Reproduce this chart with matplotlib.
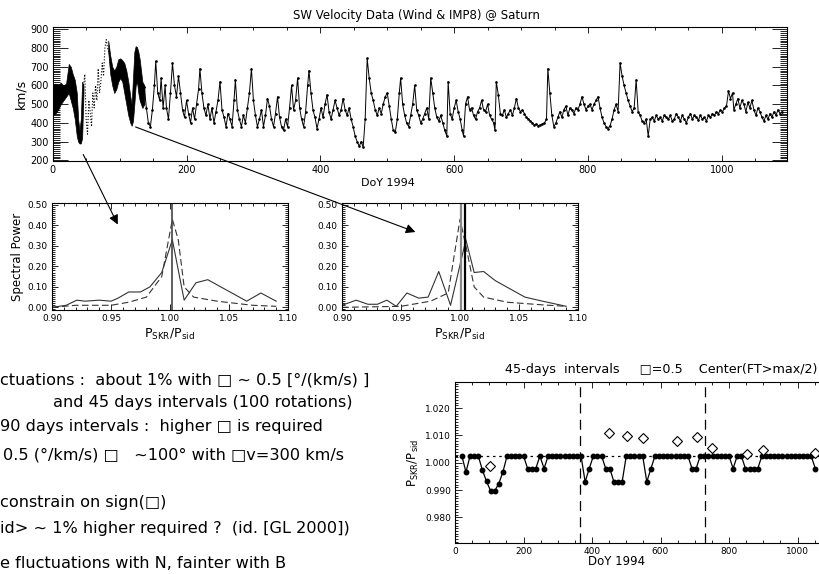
import matplotlib
matplotlib.use("Agg")
import matplotlib.pyplot as plt
import numpy as np
from matplotlib.ticker import MultipleLocator, FormatStrFormatter

plt.rcParams["font.family"] = ["DejaVu Sans"]
plt.rcParams["mathtext.fontset"] = "dejavusans"

W, H = 819, 574

# ---- top panel : SW speed (km/s) vs DoY 1994 ----
# dense (thick) stretches drawn as an envelope
band1_day = [0, 4, 8, 12, 16, 20, 24, 27, 30, 33, 36, 38, 40, 42, 44, 46]
band1_hi = [605, 610, 600, 615, 600, 610, 715, 700, 660, 630, 560, 420, 360, 420, 620, 600]
band1_lo = [440, 450, 470, 500, 520, 540, 560, 520, 480, 420, 330, 300, 290, 290, 320, 560]

band2_day = [83, 86, 89, 92, 95, 98, 101, 104, 107, 110, 113, 116, 118, 120, 122, 124, 126, 128, 130, 132, 134, 137]
band2_hi = [840, 760, 700, 680, 700, 740, 745, 735, 720, 680, 620, 540, 500, 640, 780, 810, 805, 780, 740, 680, 620, 600]
band2_lo = [780, 660, 600, 560, 580, 620, 640, 620, 560, 500, 440, 400, 385, 410, 500, 600, 620, 560, 520, 500, 480, 500]

gap_day = [46, 48, 50, 52, 54, 56, 58, 60, 62, 64, 66, 68, 70, 72, 74, 76, 78, 80, 82, 84]
gap_kms = [600, 660, 420, 340, 520, 460, 380, 560, 480, 600, 520, 690, 560, 620, 720, 650, 800, 845, 800, 780]

sw_day = [
    137, 140, 143, 146, 149, 152, 154, 157, 160, 162, 165, 168, 170, 173, 176, 179, 182, 185, 188, 191,
    194, 197, 200, 203, 206, 209, 212, 215, 218, 220, 223, 226, 229, 232, 235, 238, 241, 244, 247, 250,
    253, 256, 259, 262, 265, 268, 271, 273, 276, 279, 282, 285, 288, 291, 294, 297, 300, 303, 306, 309,
    312, 315, 318, 321, 324, 327, 330, 333, 336, 339, 342, 345, 348, 351, 354, 357, 360, 363, 366, 369,
    372, 375, 378, 381, 383, 386, 389, 392, 395, 398, 401, 404, 407, 410, 413, 416, 419, 422, 425, 428,
    431, 434, 437, 440, 443, 446, 449, 452, 455, 458, 461, 464, 467, 470, 473, 476, 479, 482, 485, 488,
    491, 494, 497, 500, 503, 506, 509, 512, 515, 518, 520, 523, 526, 529, 532, 535, 538, 541, 544, 547,
    550, 553, 556, 559, 562, 565, 568, 571, 574, 577, 580, 583, 586, 589, 591, 594, 597, 600, 603, 606,
    609, 612, 614, 617, 620, 623, 626, 629, 632, 635, 638, 641, 644, 647, 650, 653, 656, 659, 661, 663,
    666, 669, 672, 675, 678, 681, 684, 687, 690, 693, 696, 699, 702, 705, 708, 711, 714, 717, 720, 723,
    726, 729, 732, 735, 738, 740, 743, 746, 749, 752, 755, 758, 761, 764, 767, 770, 773, 776, 779, 782,
    785, 788, 791, 794, 797, 800, 803, 806, 809, 812, 815, 818, 821, 824, 827, 830, 833, 836, 839, 842,
    845, 848, 851, 854, 857, 860, 863, 866, 869, 872, 875, 878, 881, 884, 887, 890, 893, 896, 899, 902,
    905, 908, 911, 914, 917, 920, 923, 926, 929, 932, 935, 938, 941, 944, 947, 950, 953, 956, 959, 962,
    965, 968, 971, 974, 977, 980, 983, 986, 989, 992, 995, 998, 1001, 1004, 1007, 1010, 1013, 1016, 1018, 1021,
    1024, 1027, 1030, 1033, 1036, 1039, 1042, 1045, 1048, 1051, 1054, 1057, 1060, 1063, 1066, 1069, 1072, 1075, 1078, 1081,
    1084, 1087, 1090,
]
sw_kms = [
    590, 480, 400, 380, 470, 600, 730, 560, 520, 640, 480, 600, 480, 420, 560, 720, 600, 540, 650, 560,
    470, 430, 520, 450, 400, 480, 420, 500, 580, 690, 560, 480, 440, 500, 420, 480, 400, 460, 520, 620,
    470, 430, 380, 450, 420, 380, 520, 630, 470, 420, 380, 440, 400, 480, 560, 690, 520, 440, 380, 420,
    470, 380, 440, 530, 490, 420, 380, 450, 540, 430, 380, 360, 420, 380, 480, 600, 470, 520, 640, 480,
    420, 380, 460, 600, 680, 560, 470, 430, 370, 420, 480, 430, 500, 550, 460, 420, 470, 520, 480, 440,
    470, 530, 470, 440, 480, 420, 380, 330, 300, 275, 300, 270, 420, 745, 640, 560, 520, 470, 440, 480,
    450, 500, 540, 560, 490, 420, 360, 350, 420, 560, 640, 500, 440, 400, 380, 440, 500, 600, 470, 440,
    400, 420, 450, 480, 420, 640, 560, 480, 430, 410, 440, 400, 360, 330, 620, 450, 420, 480, 520, 460,
    420, 360, 330, 500, 540, 470, 480, 440, 420, 460, 480, 520, 470, 460, 500, 440, 420, 400, 360, 620,
    550, 450, 440, 470, 430, 450, 470, 440, 480, 530, 480, 460, 470, 450, 430, 420, 410, 400, 390, 395,
    385, 390, 395, 400, 420, 690, 560, 440, 380, 400, 430, 460, 430, 470, 490, 440, 480, 470, 450, 480,
    470, 500, 540, 500, 470, 490, 500, 470, 500, 520, 540, 480, 430, 400, 380, 370, 385, 420, 470, 500,
    460, 720, 650, 600, 560, 520, 490, 460, 480, 630, 460, 440, 410, 400, 420, 330, 420, 430, 410, 440,
    420, 430, 410, 440, 430, 420, 440, 410, 420, 450, 430, 410, 440, 420, 400, 430, 450, 420, 440, 430,
    415, 440, 420, 430, 410, 440, 430, 450, 440, 460, 450, 470, 460, 480, 490, 570, 530, 560, 470, 500,
    530, 480, 520, 500, 460, 510, 480, 520, 470, 440, 480, 460, 430, 410, 440, 420, 450, 430, 460, 440,
    470, 450, 460,
]

# ---- middle panels : spectral power vs P_SKR/P_sid ----
specL_x = [0.900, 0.912, 0.921, 0.928, 0.940, 0.950, 0.956, 0.965, 0.975, 0.983, 0.993, 1.002, 1.012, 1.022, 1.032, 1.065, 1.077, 1.090]
specL_y = [0.000, 0.010, 0.035, 0.030, 0.035, 0.030, 0.045, 0.075, 0.075, 0.100, 0.170, 0.330, 0.035, 0.120, 0.135, 0.030, 0.070, 0.030]
modelL_x = [0.900, 0.920, 0.950, 0.965, 0.980, 0.993, 1.002, 1.007, 1.012, 1.020, 1.040, 1.070, 1.090]
modelL_y = [0.000, 0.010, 0.010, 0.025, 0.050, 0.150, 0.430, 0.330, 0.100, 0.050, 0.030, 0.010, 0.005]
peakL = [1.002]

specR_x = [0.900, 0.912, 0.922, 0.930, 0.938, 0.946, 0.955, 0.965, 0.973, 0.982, 0.992, 1.005, 1.012, 1.020, 1.030, 1.055, 1.070, 1.090]
specR_y = [0.010, 0.035, 0.015, 0.015, 0.035, 0.005, 0.070, 0.045, 0.050, 0.175, 0.010, 0.330, 0.170, 0.175, 0.130, 0.050, 0.030, 0.005]
modelR_x = [0.900, 0.950, 0.975, 0.990, 1.000, 1.005, 1.012, 1.020, 1.040, 1.070, 1.090]
modelR_y = [0.000, 0.005, 0.030, 0.070, 0.430, 0.300, 0.100, 0.050, 0.025, 0.012, 0.005]
peakR_gray = [1.001]
peakR_black = [1.0045]

# ---- bottom right : period ratio from 45-day windows ----
fit_day = np.arange(20, 1060, 12)   # window centres
fit_ratio = [
    1.0025, 0.9966, 1.0025, 1.0025, 1.0025, 0.9973, 0.9932, 0.9897, 0.9897, 0.9924,
    0.9967, 1.0025, 1.0025, 1.0025, 1.0025, 1.0025, 0.9979, 0.9979, 0.9979, 1.0025,
    0.9979, 1.0025, 1.0025, 1.0025, 1.0025, 1.0025, 1.0025, 1.0025, 1.0025, 1.0025,
    0.9930, 0.9979, 1.0025, 1.0025, 1.0025, 0.9979, 0.9979, 0.9930, 0.9930, 0.9930,
    1.0025, 1.0025, 1.0025, 1.0025, 1.0025, 0.9930, 0.9979, 1.0025, 1.0025, 1.0025,
    1.0025, 1.0025, 1.0025, 1.0025, 1.0025, 1.0025, 0.9979, 0.9979, 1.0025, 1.0025,
    1.0025, 1.0025, 1.0025, 1.0025, 1.0025, 1.0025, 0.9979, 1.0025, 1.0025, 0.9979,
    0.9979, 0.9979, 0.9979, 1.0025, 1.0025, 1.0025, 1.0025, 1.0025, 1.0025, 1.0025,
    1.0025, 1.0025, 1.0025, 1.0025, 1.0025, 1.0025, 0.9979,
]
diam_day = [102, 451, 503, 550, 649, 706, 751, 852, 900, 1051]
diam_ratio = [0.9989, 1.0108, 1.0098, 1.0090, 1.0078, 1.0094, 1.0053, 1.0033, 1.0047, 1.0037]
sid_level = 1.0024
year_marks = [365, 730]

slide_lines = [
    ("ctuations :  about 1% with \u25a1 ~ 0.5 [\u00b0/(km/s) ]", 0, 380),
    ("and 45 days intervals (100 rotations)", 53, 402),
    ("90 days intervals :  higher \u25a1 is required", 0, 427),
    ("0.5 (\u00b0/km/s) \u25a1   ~100\u00b0 with \u25a1v=300 km/s", 3, 455),
    ("constrain on sign(\u25a1)", 0, 503),
    ("id> ~ 1% higher required ?  (id. [GL 2000])", 0, 528),
    ("e fluctuations with N, fainter with B", 0, 563),
]

ratio_lbl = r"P$_{\mathrm{SKR}}$/P$_{\mathrm{sid}}$"


def box(l, t, r, b):
    return [l / W, 1 - b / H, (r - l) / W, (b - t) / H]


def idl_axis(ax, xlen, ylen, size):
    ax.tick_params(which="both", direction="in", top=True, right=True,
                   width=0.6, labelsize=size, pad=3)
    ax.xaxis.set_tick_params(which="major", length=xlen[0])
    ax.xaxis.set_tick_params(which="minor", length=xlen[1])
    ax.yaxis.set_tick_params(which="major", length=ylen[0])
    ax.yaxis.set_tick_params(which="minor", length=ylen[1])
    for s in ax.spines.values():
        s.set_linewidth(0.8)


fig = plt.figure(figsize=(W / 100, H / 100), dpi=100)

# top panel
ax1 = fig.add_axes(box(52.7, 27.3, 786.7, 160.7))
ax1.fill_between(band1_day, band1_lo, band1_hi, color="black", lw=0.5)
ax1.fill_between(band2_day, band2_lo, band2_hi, color="black", lw=0.5)
ax1.plot(gap_day, gap_kms, ":", color="black", lw=0.8)
ax1.plot(sw_day, sw_kms, "-", color="black", lw=0.7, marker=".", ms=1.8)
ax1.set_xlim(0, 1097)
ax1.set_ylim(198, 911)
ax1.xaxis.set_major_locator(MultipleLocator(200))
ax1.xaxis.set_minor_locator(MultipleLocator(50))
ax1.yaxis.set_major_locator(MultipleLocator(100))
ax1.yaxis.set_minor_locator(MultipleLocator(10))
idl_axis(ax1, (4, 2), (11, 5), 7)
ax1.set_ylabel("km/s", fontsize=9, labelpad=2)
ax1.set_xlabel("DoY 1994", fontsize=8, labelpad=1)
ax1.xaxis.set_label_coords((388 - 52.7) / 734, -0.13)
fig.text(416 / W, 1 - 15 / H, "SW Velocity Data (Wind & IMP8) @ Saturn",
         ha="center", va="center", fontsize=8.5)

# spectra
for left, sx, sy, mx, my, ylab in [
    (52, specL_x, specL_y, modelL_x, modelL_y, True),
    (342, specR_x, specR_y, modelR_x, modelR_y, False),
]:
    ax = fig.add_axes(box(left, 203.3, left + 236, 310))
    ax.plot(sx, sy, "-", color="#333333", lw=0.8)
    ax.plot(mx, my, "--", color="#333333", lw=0.8, dashes=(6, 3))
    ax.set_xlim(0.9, 1.1)
    ax.set_ylim(-0.013, 0.508)
    ax.xaxis.set_major_locator(MultipleLocator(0.05))
    ax.xaxis.set_minor_locator(MultipleLocator(0.01))
    ax.yaxis.set_major_locator(MultipleLocator(0.1))
    ax.yaxis.set_minor_locator(MultipleLocator(0.01))
    ax.xaxis.set_major_formatter(FormatStrFormatter("%.2f"))
    ax.yaxis.set_major_formatter(FormatStrFormatter("%.2f"))
    idl_axis(ax, (4, 2), (4, 2), 6.5)
    ax.set_xlabel(ratio_lbl, fontsize=9, labelpad=3)
    if ylab:
        ax.set_ylabel("Spectral Power", fontsize=8.5, labelpad=3)
        ax.axvline(peakL[0], color="#444444", lw=1.2)
    else:
        ax.axvline(peakR_gray[0], color="#888888", lw=1.6)
        ax.axvline(peakR_black[0], color="black", lw=1.6)

# arrows from the top panel down to the spectra
arrow = dict(arrowstyle="-|>", color="black", lw=0.8, mutation_scale=14)
fig.add_artist(matplotlib.patches.FancyArrowPatch(
    (82 / W, 1 - 152 / H), (119 / W, 1 - 227 / H),
    transform=fig.transFigure, **arrow))
fig.add_artist(matplotlib.patches.FancyArrowPatch(
    (133 / W, 1 - 126 / H), (418 / W, 1 - 233 / H),
    transform=fig.transFigure, **arrow))

# slide text
for txt, x, y in slide_lines:
    fig.text(x / W, 1 - y / H, txt, ha="left", va="center", fontsize=11.6)

# bottom right panel
ax3 = fig.add_axes(box(455, 381.7, 455 + 1100 * 0.3425, 543.3))
ax3.axhline(sid_level, color="black", lw=0.9, ls=(0, (2, 3)))
for d in year_marks:
    ax3.axvline(d, color="black", lw=0.9, ls=(0, (8, 5)))
ax3.plot(fit_day, fit_ratio, "-", color="black", lw=0.9, marker="o", ms=3.2)
ax3.plot(diam_day, diam_ratio, "D", mfc="white", mec="black", mew=0.8, ms=5.5, ls="none")
ax3.set_xlim(0, 1100)
ax3.set_ylim(0.9705, 1.0297)
ax3.xaxis.set_major_locator(MultipleLocator(200))
ax3.xaxis.set_minor_locator(MultipleLocator(50))
ax3.set_yticks([0.980, 0.990, 1.000, 1.010, 1.020])
ax3.yaxis.set_minor_locator(MultipleLocator(0.001))
ax3.yaxis.set_major_formatter(FormatStrFormatter("%.3f"))
idl_axis(ax3, (4, 2), (5, 2.5), 6.5)
ax3.set_ylabel(ratio_lbl, fontsize=8.5, labelpad=3)
ax3.set_xlabel("DoY 1994", fontsize=8.5, labelpad=1)
ax3.xaxis.set_label_coords((617 - 455) / (1100 * 0.3425), -0.075)
fig.text(661 / W, 1 - 370 / H, "45-days  intervals     \u25a1=0.5    Center(FT>max/2)",
         ha="center", va="center", fontsize=9.2)

fig.savefig("out.png", dpi=100)
